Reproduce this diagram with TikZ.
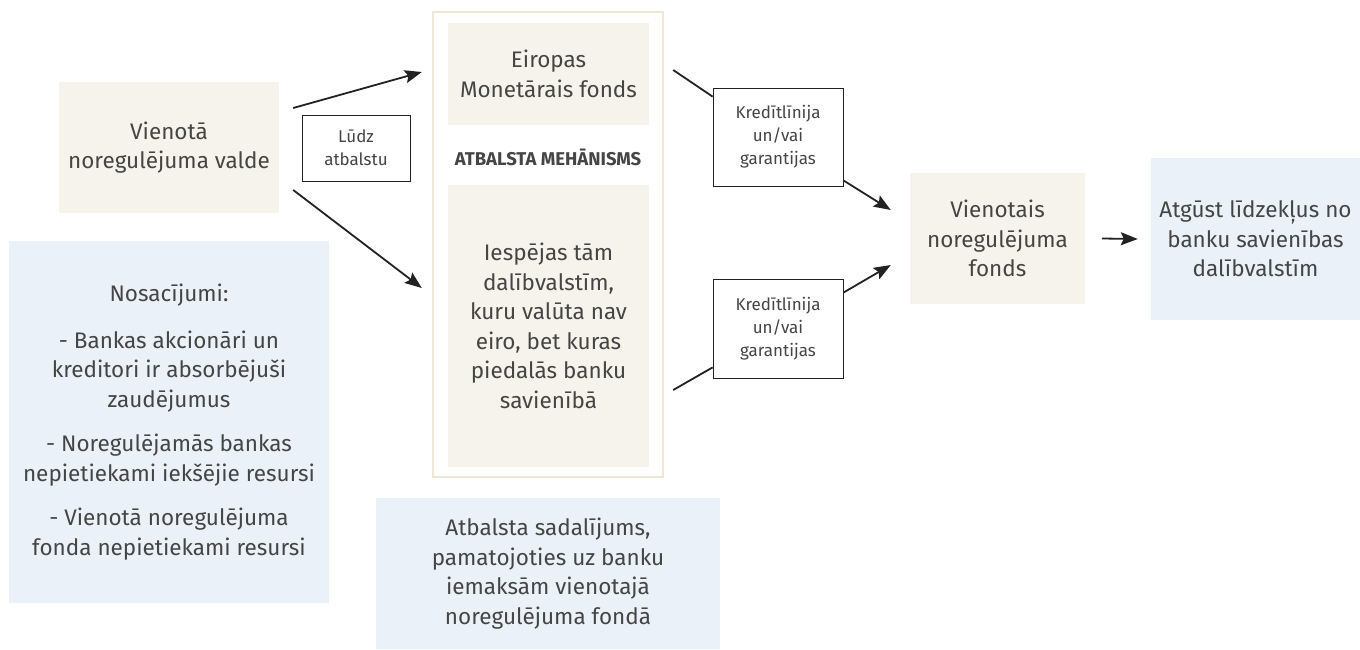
\documentclass[tikz,border=0pt]{standalone}
\usepackage{fontspec}
\setmainfont{Fira Sans}
\usetikzlibrary{arrows.meta}
\definecolor{beigefill}{HTML}{F5F3EC}
\definecolor{bluefill}{HTML}{EAF1F8}
\definecolor{framebeige}{HTML}{EEE8D5}
\definecolor{textgrey}{HTML}{454545}
\definecolor{linegrey}{HTML}{222222}

\begin{document}
\begin{tikzpicture}[x=1pt,y=-1pt,
  box/.style={inner sep=0pt,align=center,text=textgrey,
    font=\fontsize{22.5}{29.5}\selectfont},
  beigebox/.style={box,fill=beigefill},
  bluebox/.style={box,fill=bluefill},
  smallbox/.style={box,draw=linegrey,line width=0.8pt,fill=white,
    font=\fontsize{17}{23}\selectfont},
  arr/.style={draw=linegrey,line width=1.8pt,
    -{Stealth[length=17pt,width=13pt,inset=3pt]}},
  ln/.style={draw=linegrey,line width=1.8pt}]
  \useasboundingbox (0,0) rectangle (1360,649);
  \draw[framebeige,line width=2pt] (433,12) rectangle (663,477);
  \node[beigebox,minimum width=220pt,minimum height=131pt] (srb) at (169,147.5)
    {Vienotā\\noregulējuma valde};
  \node[bluebox,minimum width=320pt,minimum height=362pt] (cond) at (169,422)
    {Nosacījumi:\\[17pt]- Bankas akcionāri un\\kreditori ir absorbējuši\\zaudējumus\\[15pt]- Noregulējamās bankas\\nepietiekami iekšējie resursi\\[15pt]- Vienotā noregulējuma\\fonda nepietiekami resursi};
  \node[beigebox,minimum width=201pt,minimum height=102pt] (esm) at (548.5,74)
    {Eiropas\\Monetārais fonds};
  \node[text=textgrey,font=\fontsize{18.5}{22}\selectfont\bfseries] (mech) at (548,157)
    {ATBALSTA MEHĀNISMS};
  \node[beigebox,minimum width=201pt,minimum height=282pt] (iesp) at (548.5,326)
    {Iespējas tām\\dalībvalstīm,\\kuru valūta nav\\eiro, bet kuras\\piedalās banku\\savienībā};
  \node[bluebox,minimum width=344pt,minimum height=151pt] (split) at (548,573.5)
    {Atbalsta sadalījums,\\pamatojoties uz banku\\iemaksām vienotajā\\noregulējuma fondā};
  \node[smallbox,minimum width=108pt,minimum height=66pt] (ludz) at (356,148)
    {Lūdz\\atbalstu};
  \node[smallbox,minimum width=130pt,minimum height=98pt] (kred1) at (778,137)
    {Kredītlīnija\\un/vai\\garantijas};
  \node[smallbox,minimum width=130pt,minimum height=99pt] (kred2) at (778,328.5)
    {Kredītlīnija\\un/vai\\garantijas};
  \node[beigebox,minimum width=175pt,minimum height=131pt] (fund) at (997.5,238.5)
    {Vienotais\\noregulējuma\\fonds};
  \node[bluebox,minimum width=209pt,minimum height=162pt] (atg) at (1255.5,239)
    {Atgūst līdzekļus no\\banku savienības\\dalībvalstīm};

  \draw[arr] ([xshift=14pt,yshift=39.5pt]srb.east) -- ([xshift=-26pt,yshift=2pt]esm.west);
  \draw[arr] ([xshift=14pt,yshift=-42.5pt]srb.east) -- ([xshift=-26pt,yshift=38pt]iesp.west);
  \draw[ln] ([xshift=24pt,yshift=4pt]esm.east) -- ([yshift=-9pt]kred1.north west);
  \draw[arr] ([yshift=6pt]kred1.south east) -- ([xshift=-19pt,yshift=28.5pt]fund.west);
  \draw[ln] ([xshift=24pt,yshift=-64pt]iesp.east) -- ([yshift=11pt]kred2.south west);
  \draw[arr] ([yshift=-14pt]kred2.north east) -- ([xshift=-19pt,yshift=-26.5pt]fund.west);
  \draw[arr] ([xshift=17pt]fund.east) -- ([xshift=-13pt]atg.west);
\end{tikzpicture}
\end{document}
